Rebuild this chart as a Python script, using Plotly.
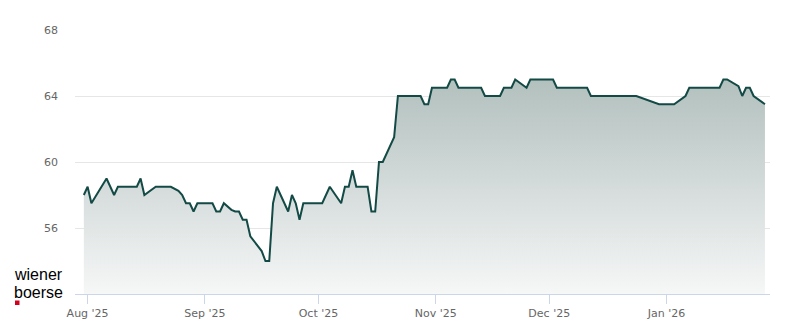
import plotly.graph_objects as go

dates = [
    "2025-07-31", "2025-08-01", "2025-08-02", "2025-08-06", "2025-08-08", "2025-08-09",
    "2025-08-14", "2025-08-15", "2025-08-16", "2025-08-19", "2025-08-23", "2025-08-25",
    "2025-08-26", "2025-08-27", "2025-08-28", "2025-08-29", "2025-08-30",
    "2025-09-03", "2025-09-04", "2025-09-05", "2025-09-06", "2025-09-07", "2025-09-08",
    "2025-09-09", "2025-09-10", "2025-09-11", "2025-09-12", "2025-09-13", "2025-09-16",
    "2025-09-17", "2025-09-18", "2025-09-19", "2025-09-20", "2025-09-23", "2025-09-24",
    "2025-09-25", "2025-09-26", "2025-09-27",
    "2025-10-02", "2025-10-04", "2025-10-07", "2025-10-08", "2025-10-09", "2025-10-10",
    "2025-10-11", "2025-10-14", "2025-10-15", "2025-10-16", "2025-10-17", "2025-10-18",
    "2025-10-21", "2025-10-22", "2025-10-28", "2025-10-29", "2025-10-30", "2025-10-31",
    "2025-11-04", "2025-11-05", "2025-11-06", "2025-11-07", "2025-11-13", "2025-11-14",
    "2025-11-18", "2025-11-19", "2025-11-21", "2025-11-22", "2025-11-25", "2025-11-26",
    "2025-12-02", "2025-12-03", "2025-12-11", "2025-12-12", "2025-12-24", "2025-12-30",
    "2026-01-03", "2026-01-06", "2026-01-07", "2026-01-15", "2026-01-16", "2026-01-17",
    "2026-01-20", "2026-01-21", "2026-01-22", "2026-01-23", "2026-01-24", "2026-01-27",
]
prices = [
    58.0, 58.5, 57.5, 59.0, 58.0, 58.5,
    58.5, 59.0, 58.0, 58.5, 58.5, 58.25,
    58.0, 57.5, 57.5, 57.0, 57.5,
    57.5, 57.0, 57.0, 57.5, 57.3, 57.1,
    57.0, 57.0, 56.5, 56.5, 55.5, 54.6,
    54.0, 54.0, 57.5, 58.5, 57.0, 58.0,
    57.5, 56.5, 57.5,
    57.5, 58.5, 57.5, 58.5, 58.5, 59.5,
    58.5, 58.5, 57.0, 57.0, 60.0, 60.0,
    61.5, 64.0, 64.0, 63.5, 63.5, 64.5,
    64.5, 65.0, 65.0, 64.5, 64.5, 64.0,
    64.0, 64.5, 64.5, 65.0, 64.5, 65.0,
    65.0, 64.5, 64.5, 64.0, 64.0, 63.5,
    63.5, 64.0, 64.5, 64.5, 65.0, 65.0,
    64.6, 64.0, 64.5, 64.5, 64.0, 63.5,
]

x_tick_vals = ["2025-08-01", "2025-09-01", "2025-10-01", "2025-11-01", "2025-12-01", "2026-01-01"]
x_tick_text = ["Aug '25", "Sep '25", "Oct '25", "Nov '25", "Dec '25", "Jan '26"]
y_tick_vals = [56, 60, 64, 68]

line_color = "#134a45"

fig = go.Figure()
fig.add_trace(go.Scatter(
    x=dates, y=prices, mode="lines",
    line=dict(color=line_color, width=2),
    fill="tozeroy",
    fillgradient=dict(
        type="vertical",
        start=52, stop=65,
        colorscale=[[0, "rgb(246,247,247)"], [1, "rgb(178,192,190)"]],
    ),
    hoverinfo="skip",
))

W, H = 800, 324
L, R, T, B = 75, 30, 30, 30
pw, ph = W - L - R, H - T - B

def px(xp):
    return (xp - L) / pw

def py(yp):
    return (H - B - yp) / ph

fig.update_layout(
    width=W, height=H,
    margin=dict(l=L, r=R, t=T, b=B, autoexpand=False),
    paper_bgcolor="white", plot_bgcolor="white",
    showlegend=False,
    font=dict(family="DejaVu Sans, Arial, sans-serif", size=11, color="#666666"),
    xaxis=dict(
        type="date",
        automargin=False,
        range=["2025-07-28 16:00", "2026-01-28 08:00"],
        tickvals=x_tick_vals, ticktext=x_tick_text,
        showgrid=False, zeroline=False,
        showline=True, linecolor="#ccd6eb", linewidth=1,
        ticks="outside", tickcolor="#ccd6eb", ticklen=9, tickwidth=1,
        tickfont=dict(size=11, color="#666666"),
    ),
    yaxis=dict(
        automargin=False,
        range=[52, 68],
        tickvals=y_tick_vals,
        showgrid=True, gridcolor="#e6e6e6", gridwidth=1,
        zeroline=False, showline=False,
        ticks="", ticklabelstandoff=16,
        tickfont=dict(size=11, color="#666666"),
    ),
    annotations=[
        dict(xref="paper", yref="paper", x=px(12), y=py(274.5), xanchor="left", yanchor="middle",
             text="wiener", showarrow=False,
             font=dict(family="Liberation Sans, Arial, sans-serif", size=16, color="#000000")),
        dict(xref="paper", yref="paper", x=px(12), y=py(292.5), xanchor="left", yanchor="middle",
             text="boerse", showarrow=False,
             font=dict(family="Liberation Sans, Arial, sans-serif", size=16, color="#000000")),
    ],
    shapes=[
        dict(type="rect", xref="paper", yref="paper",
             x0=px(15), x1=px(19.5), y0=py(305), y1=py(300.5),
             fillcolor="#d3001c", line=dict(width=0)),
    ],
)

fig.write_html("out.html")
